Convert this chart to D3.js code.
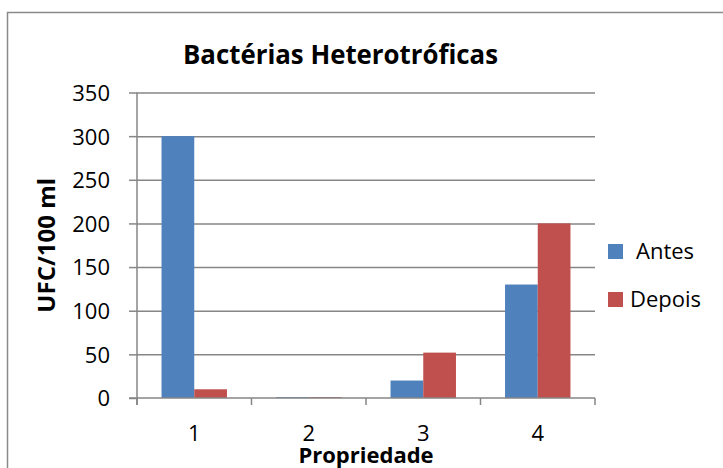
<!DOCTYPE html>
<html>
<head>
<meta charset="utf-8">
<script src="https://cdn.jsdelivr.net/npm/d3@7"></script>
<style>
  html, body { margin: 0; padding: 0; background: #fff; }
  svg { display: block; font-family: "Open Sans", "Liberation Sans", sans-serif; }
</style>
</head>
<body>
<svg id="chart" width="723" height="468"></svg>
<script>
// Data
const categories = ["1", "2", "3", "4"];
const seriesNames = ["Antes", "Depois"];
const antes = [300, 1, 20, 130];
const depois = [10, 1, 52, 200];
const yTicks = [0, 50, 100, 150, 200, 250, 300, 350];
const colors = ["#4F81BD", "#C0504D"];
const title = "Bactérias Heterotróficas";
const xTitle = "Propriedade";
const yTitle = "UFC/100 ml";

const svg = d3.select("#chart");
const gridColor = "#868686";

// Chart frame
svg.append("rect")
  .attr("x", 7.5).attr("y", 12.5)
  .attr("width", 800).attr("height", 600)
  .attr("fill", "none").attr("stroke", "#8a8a8a").attr("stroke-width", 1.5);

// Plot area
const plotLeft = 137, plotRight = 595, plotTop = 92.5, plotBottom = 398;

const x = d3.scaleBand().domain(categories).range([plotLeft, plotRight]).padding(0);
const xs = d3.scaleBand().domain(seriesNames).range([0, x.bandwidth()])
  .paddingInner(0).paddingOuter(0.75);
const y = d3.scaleLinear().domain([0, 350]).range([plotBottom, plotTop]);

// Horizontal gridlines
svg.append("g")
  .attr("transform", `translate(${plotLeft},0)`)
  .call(d3.axisLeft(y).tickValues(yTicks.filter(v => v > 0)).tickSize(-(plotRight - plotLeft)).tickFormat(""))
  .call(g => g.select(".domain").remove())
  .call(g => g.selectAll("line").attr("stroke", gridColor).attr("stroke-width", 1.5));

// Bars
const rows = categories.map((c, i) => ({ cat: c, vals: [antes[i], depois[i]] }));
svg.append("g").selectAll("g")
  .data(rows).join("g")
  .attr("transform", d => `translate(${x(d.cat)},0)`)
  .selectAll("rect")
  .data(d => d.vals.map((v, j) => ({ key: seriesNames[j], v, j })))
  .join("rect")
  .attr("x", d => xs(d.key))
  .attr("width", xs.bandwidth())
  .attr("y", d => y(d.v))
  .attr("height", d => y(0) - y(d.v))
  .attr("fill", d => colors[d.j]);

// Y axis with labels
svg.append("g")
  .attr("transform", `translate(${plotLeft},0)`)
  .call(d3.axisLeft(y).tickValues(yTicks).tickSize(8).tickPadding(19))
  .call(g => g.select(".domain").remove())
  .call(g => g.selectAll("line").attr("stroke", gridColor).attr("stroke-width", 1.5))
  .call(g => g.selectAll("text")
    .attr("dy", "0.36em")
    .attr("font-size", 22).attr("font-family", "Open Sans").attr("fill", "#000"));

// Axis lines
svg.append("line")
  .attr("x1", plotLeft).attr("x2", plotLeft).attr("y1", plotTop).attr("y2", plotBottom + 7)
  .attr("stroke", gridColor).attr("stroke-width", 1.5);
svg.append("line")
  .attr("x1", plotLeft - 8).attr("x2", plotRight).attr("y1", plotBottom).attr("y2", plotBottom)
  .attr("stroke", gridColor).attr("stroke-width", 1.5);

// Category boundary ticks
const boundaries = categories.map(c => x(c)).concat([x(categories[categories.length - 1]) + x.bandwidth()]);
svg.append("g").selectAll("line")
  .data(boundaries).join("line")
  .attr("x1", d => d).attr("x2", d => d)
  .attr("y1", plotBottom).attr("y2", plotBottom + 7)
  .attr("stroke", gridColor).attr("stroke-width", 1.5);

// X axis labels
svg.append("g")
  .attr("transform", `translate(0,${plotBottom})`)
  .call(d3.axisBottom(x).tickSize(0).tickPadding(27))
  .call(g => g.select(".domain").remove())
  .call(g => g.selectAll("text")
    .attr("font-size", 22).attr("font-family", "Open Sans").attr("fill", "#000"));

// Fit helper for text width
function fit(sel, w) {
  const len = sel.node().getComputedTextLength();
  if (len > w) sel.attr("textLength", w).attr("lengthAdjust", "spacingAndGlyphs");
  return sel;
}

// Titles
fit(svg.append("text")
  .attr("x", 340.5).attr("y", 64)
  .attr("text-anchor", "middle")
  .attr("font-size", 26).attr("font-weight", "bold")
  .text(title), 315);

fit(svg.append("text")
  .attr("x", (plotLeft + plotRight) / 2).attr("y", 463)
  .attr("text-anchor", "middle")
  .attr("font-size", 22).attr("font-weight", "bold")
  .text(xTitle), 136);

fit(svg.append("text")
  .attr("transform", `translate(55,${(plotTop + plotBottom) / 2}) rotate(-90)`)
  .attr("text-anchor", "middle")
  .attr("font-size", 24).attr("font-weight", "bold")
  .text(yTitle), 137);

// Legend
const legendY = [244, 292];
const legendTextX = [636, 630];
const legend = svg.append("g").selectAll("g")
  .data(seriesNames).join("g");
legend.append("rect")
  .attr("x", 608).attr("y", (d, i) => legendY[i])
  .attr("width", 15).attr("height", 15)
  .attr("fill", (d, i) => colors[i]);
legend.append("text")
  .attr("x", (d, i) => legendTextX[i]).attr("y", (d, i) => legendY[i] + 15)
  .attr("font-size", 22)
  .text(d => d);
</script>
</body>
</html>
